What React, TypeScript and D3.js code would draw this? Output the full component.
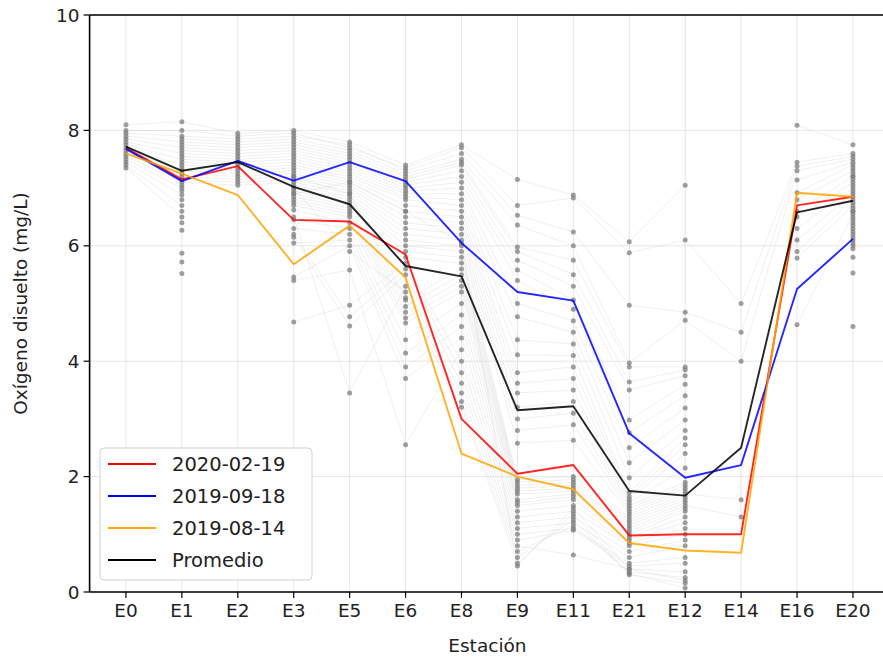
import React from "react";
import * as d3 from "d3";

const N = null;
const stations = ["E0", "E1", "E2", "E3", "E5", "E6", "E8", "E9", "E11", "E21", "E12", "E14", "E16", "E20"];
const yTicks = [0, 2, 4, 6, 8, 10];

// Individual sampling dates (gray)
const samples: (number | null)[][] = [
  [8.1, 8.15, 7.95, 8.0, 7.8, 7.4, 7.75, 7.15, 6.88, 6.07, 7.05, N, 8.09, 7.75],
  [8.0, 8.0, 7.9, 7.95, 7.7, 7.35, 7.7, 6.7, 6.83, 5.88, 6.1, 5.0, 7.45, 7.6],
  [7.95, 7.9, 7.85, 7.9, 7.75, 7.3, 7.6, 6.53, 6.24, 4.97, 4.85, 4.5, 7.38, 7.55],
  [N, 7.85, 7.8, 7.85, 7.65, 7.25, 7.5, 6.36, 6.0, 3.97, 4.71, 4.0, 7.3, 7.5],
  [7.9, 7.8, 7.75, 7.8, 7.6, 7.2, 7.45, 5.98, 5.75, 3.9, 3.9, N, 7.14, 7.45],
  [N, 7.75, 7.7, 7.75, 7.55, 7.15, 7.4, 5.9, 5.5, 3.64, 3.85, N, 6.92, 7.4],
  [7.85, 7.7, 7.65, 7.7, 7.5, 7.1, 7.3, 5.75, 5.3, 3.5, 3.75, N, N, 7.35],
  [N, 7.65, 7.6, 7.65, 7.45, 7.05, 7.2, 5.58, 5.06, 2.98, 3.6, N, 6.8, 7.3],
  [7.8, 7.6, 7.55, 7.6, 7.4, 7.0, 7.1, 5.4, 4.9, 2.76, 3.4, N, N, 7.25],
  [N, 7.55, 7.5, 7.55, 7.35, 6.95, 7.0, 5.0, 4.7, 2.5, 3.19, N, 6.6, 7.2],
  [7.75, 7.5, 7.45, 7.5, 7.3, 6.9, 6.9, 4.77, 4.5, 2.24, 2.98, N, N, 7.15],
  [N, 7.45, 7.4, 7.45, 7.25, 6.85, 6.8, 4.37, 4.3, 1.98, 2.8, N, 6.5, 7.1],
  [7.7, 7.4, 7.35, 7.4, 7.2, 6.8, 6.7, 4.11, 4.1, 1.72, 2.67, N, N, 7.05],
  [N, 7.35, 7.3, 7.35, 7.15, 6.7, 6.6, 3.8, 3.9, 1.65, 2.55, N, 6.3, 7.0],
  [7.65, 7.3, 7.25, 7.3, 7.1, 6.6, 6.5, 3.62, 3.7, 1.6, 2.4, N, N, 6.95],
  [N, 7.25, 7.2, 7.25, 7.05, 6.5, 6.4, 3.45, 3.5, 1.55, 2.15, N, 6.1, 6.9],
  [7.6, 7.2, 7.15, 7.2, 7.0, 6.4, 6.3, 3.2, 3.3, 1.5, 1.9, N, N, 6.85],
  [N, 7.15, 7.1, 7.15, 6.95, 6.3, 6.2, 3.0, 3.1, 1.45, 1.85, N, 5.9, 6.8],
  [7.55, 7.1, 7.05, 7.1, 6.9, 6.2, 6.1, 2.8, 2.9, 1.4, 1.8, N, N, 6.75],
  [N, 7.05, N, 7.05, 6.85, 6.1, 6.0, 2.58, 2.63, 1.35, 1.75, N, 5.79, 6.7],
  [7.5, 7.0, N, 7.0, 6.8, 6.0, 5.9, 1.95, 2.0, 1.3, 1.7, 1.6, N, 6.65],
  [N, 6.95, N, 6.95, 6.75, 5.9, 5.8, 1.9, 1.95, 1.25, 1.65, N, N, 6.6],
  [7.45, 6.88, N, 6.9, 6.7, 5.8, 5.7, 1.85, 1.9, 1.2, 1.6, N, 4.63, 6.55],
  [N, 6.8, N, 6.85, 6.65, 5.06, 5.6, 1.8, 1.85, 1.15, 1.55, N, N, 6.5],
  [7.4, 6.7, N, 6.8, 6.6, 4.95, 5.5, 1.75, 1.8, 1.1, 1.5, 1.3, N, 6.45],
  [N, 6.6, N, 6.75, 6.55, 4.85, 5.4, 1.7, 1.75, 1.05, 1.45, N, N, 6.4],
  [7.35, 6.5, N, 6.7, 6.5, 4.75, 5.3, 1.6, 1.7, 1.0, 1.4, N, N, 6.35],
  [N, 6.4, N, 6.62, 6.4, 4.66, 5.2, 1.55, 1.65, 0.95, 1.3, N, N, 6.3],
  [N, 6.27, N, 6.45, 6.3, 4.37, 5.0, 1.5, 1.6, 0.9, 1.2, N, N, 6.2],
  [N, 5.87, N, 6.3, 6.2, 4.14, 4.8, 1.4, 1.5, 0.85, 1.1, N, N, 6.1],
  [N, 5.72, N, 6.05, 6.1, 3.9, 4.6, 1.3, 1.4, 0.8, 1.0, N, N, 6.0],
  [N, 5.52, N, 5.46, 6.0, 3.7, 4.4, 1.2, 1.3, 0.7, 0.9, N, N, 5.8],
  [N, N, N, 5.4, 5.58, 2.55, 4.2, 1.1, 1.2, 0.6, 0.8, N, N, 5.53],
  [N, N, N, 4.68, 4.97, 5.7, 4.0, 1.0, 1.1, 0.5, 0.6, N, N, 4.6],
  [N, N, N, 6.2, 4.77, 5.6, 3.8, 0.9, 1.07, 0.45, 0.5, N, N, 6.25],
  [N, N, N, 6.15, 4.61, 5.5, 3.62, 0.8, 0.64, 0.4, 0.35, N, N, 6.15],
  [N, N, N, 6.5, 3.45, 5.3, 3.45, 0.7, 1.15, 0.35, 0.25, N, N, 6.05],
  [N, N, N, 7.0, 5.9, 5.2, 3.3, 0.6, 1.25, 0.3, 0.15, N, N, 5.95],
  [N, N, N, 7.2, 6.9, 5.1, 3.2, 0.5, 1.35, 0.32, 0.07, N, N, 6.6],
  [N, N, N, 6.9, 7.1, 6.6, 6.05, 0.45, 1.45, 0.4, 0.2, N, N, 7.2],
];

const s20200219 = [7.7, 7.15, 7.38, 6.45, 6.42, 5.85, 3.0, 2.05, 2.2, 0.98, 1.0, 1.0, 6.7, 6.85];
const s20190918 = [7.68, 7.12, 7.47, 7.13, 7.45, 7.12, 6.05, 5.2, 5.05, 2.75, 1.98, 2.2, 5.25, 6.12];
const s20190814 = [7.6, 7.25, 6.88, 5.68, 6.35, 5.45, 2.4, 2.0, 1.78, 0.85, 0.72, 0.68, 6.92, 6.85];
const promedio = [7.72, 7.3, 7.45, 7.02, 6.72, 5.65, 5.47, 3.15, 3.22, 1.75, 1.67, 2.5, 6.58, 6.78];

const legendNames = ["2020-02-19", "2019-09-18", "2019-08-14", "Promedio"];
const seriesColors = ["#ff0000", "#0000ff", "#ffa500", "#000000"];

export default function App() {
  const W = 883, H = 660;
  const left = 89.6, right = 889.3, top = 15, bottom = 592;
  const x = d3.scaleLinear().domain([-0.65, stations.length - 1 + 0.65]).range([left, right]);
  const y = d3.scaleLinear().domain([0, 10]).range([bottom, top]);
  const line = d3
    .line<number | null>()
    .defined((d) => d != null)
    .x((_, i) => x(i))
    .y((d) => y(d as number));
  const colored = [s20200219, s20190918, s20190814, promedio];
  const font = "DejaVu Sans, sans-serif";
  const fs = 18.5;

  return (
    <svg width={W} height={H} style={{ position: "absolute", left: 0, top: 0, background: "#fff" }} fontFamily={font}>
      <defs>
        <clipPath id="plot">
          <rect x={left} y={top} width={right - left} height={bottom - top} />
        </clipPath>
      </defs>
      {/* grid */}
      <g stroke="#b0b0b0" strokeOpacity={0.3} strokeWidth={1}>
        {stations.map((s, i) => (
          <line key={s} x1={x(i)} x2={x(i)} y1={top} y2={bottom} />
        ))}
        {yTicks.map((t) => (
          <line key={t} x1={left} x2={right} y1={y(t)} y2={y(t)} />
        ))}
      </g>
      <g clipPath="url(#plot)">
        {samples.map((r, k) => (
          <path key={k} d={line(r) || ""} fill="none" stroke="#c8c8c8" strokeOpacity={0.4} strokeWidth={0.7} />
        ))}
        {samples.map((r, k) =>
          r.map((v, i) =>
            v == null ? null : <circle key={k + "-" + i} cx={x(i)} cy={y(v)} r={2.5} fill="#7f7f7f" fillOpacity={0.75} />
          )
        )}
        {colored.map((s, k) => (
          <path key={k} d={line(s) || ""} fill="none" stroke={seriesColors[k]} strokeWidth={1.9} strokeOpacity={0.85} strokeLinejoin="round" />
        ))}
      </g>
      {/* spines */}
      <g stroke="#000" strokeWidth={1.6} fill="none">
        <line x1={left} x2={left} y1={top} y2={bottom} />
        <line x1={left} x2={right} y1={bottom} y2={bottom} />
        <line x1={left} x2={right} y1={top} y2={top} />
      </g>
      {/* x ticks */}
      {stations.map((s, i) => (
        <g key={s}>
          <line x1={x(i)} x2={x(i)} y1={bottom} y2={bottom + 6} stroke="#000" strokeWidth={1.2} />
          <text x={x(i)} y={bottom + 25} textAnchor="middle" fontSize={fs} fill="#222">
            {s}
          </text>
        </g>
      ))}
      {/* y ticks */}
      {yTicks.map((t) => (
        <g key={t}>
          <line x1={left - 6} x2={left} y1={y(t)} y2={y(t)} stroke="#000" strokeWidth={1.2} />
          <text x={left - 10} y={y(t) + 6.5} textAnchor="end" fontSize={fs} fill="#222">
            {t}
          </text>
        </g>
      ))}
      <text x={(left + right) / 2 - 2} y={652} textAnchor="middle" fontSize={fs} fill="#222">
        Estación
      </text>
      <text transform={`translate(27, ${(top + bottom) / 2}) rotate(-90)`} textAnchor="middle" fontSize={fs} fill="#222">
        Oxígeno disuelto (mg/L)
      </text>
      {/* legend */}
      <g>
        <rect x={100} y={448} width={212} height={132} rx={4} fill="#fff" fillOpacity={0.85} stroke="#d0d0d0" strokeWidth={1} />
        {legendNames.map((n, k) => (
          <g key={n} transform={`translate(0, ${464 + k * 32})`}>
            <line x1={108} x2={156} y1={0} y2={0} stroke={seriesColors[k]} strokeWidth={1.9} />
            <text x={172} y={7} fontSize={fs + 1} fill="#222">
              {n}
            </text>
          </g>
        ))}
      </g>
    </svg>
  );
}
